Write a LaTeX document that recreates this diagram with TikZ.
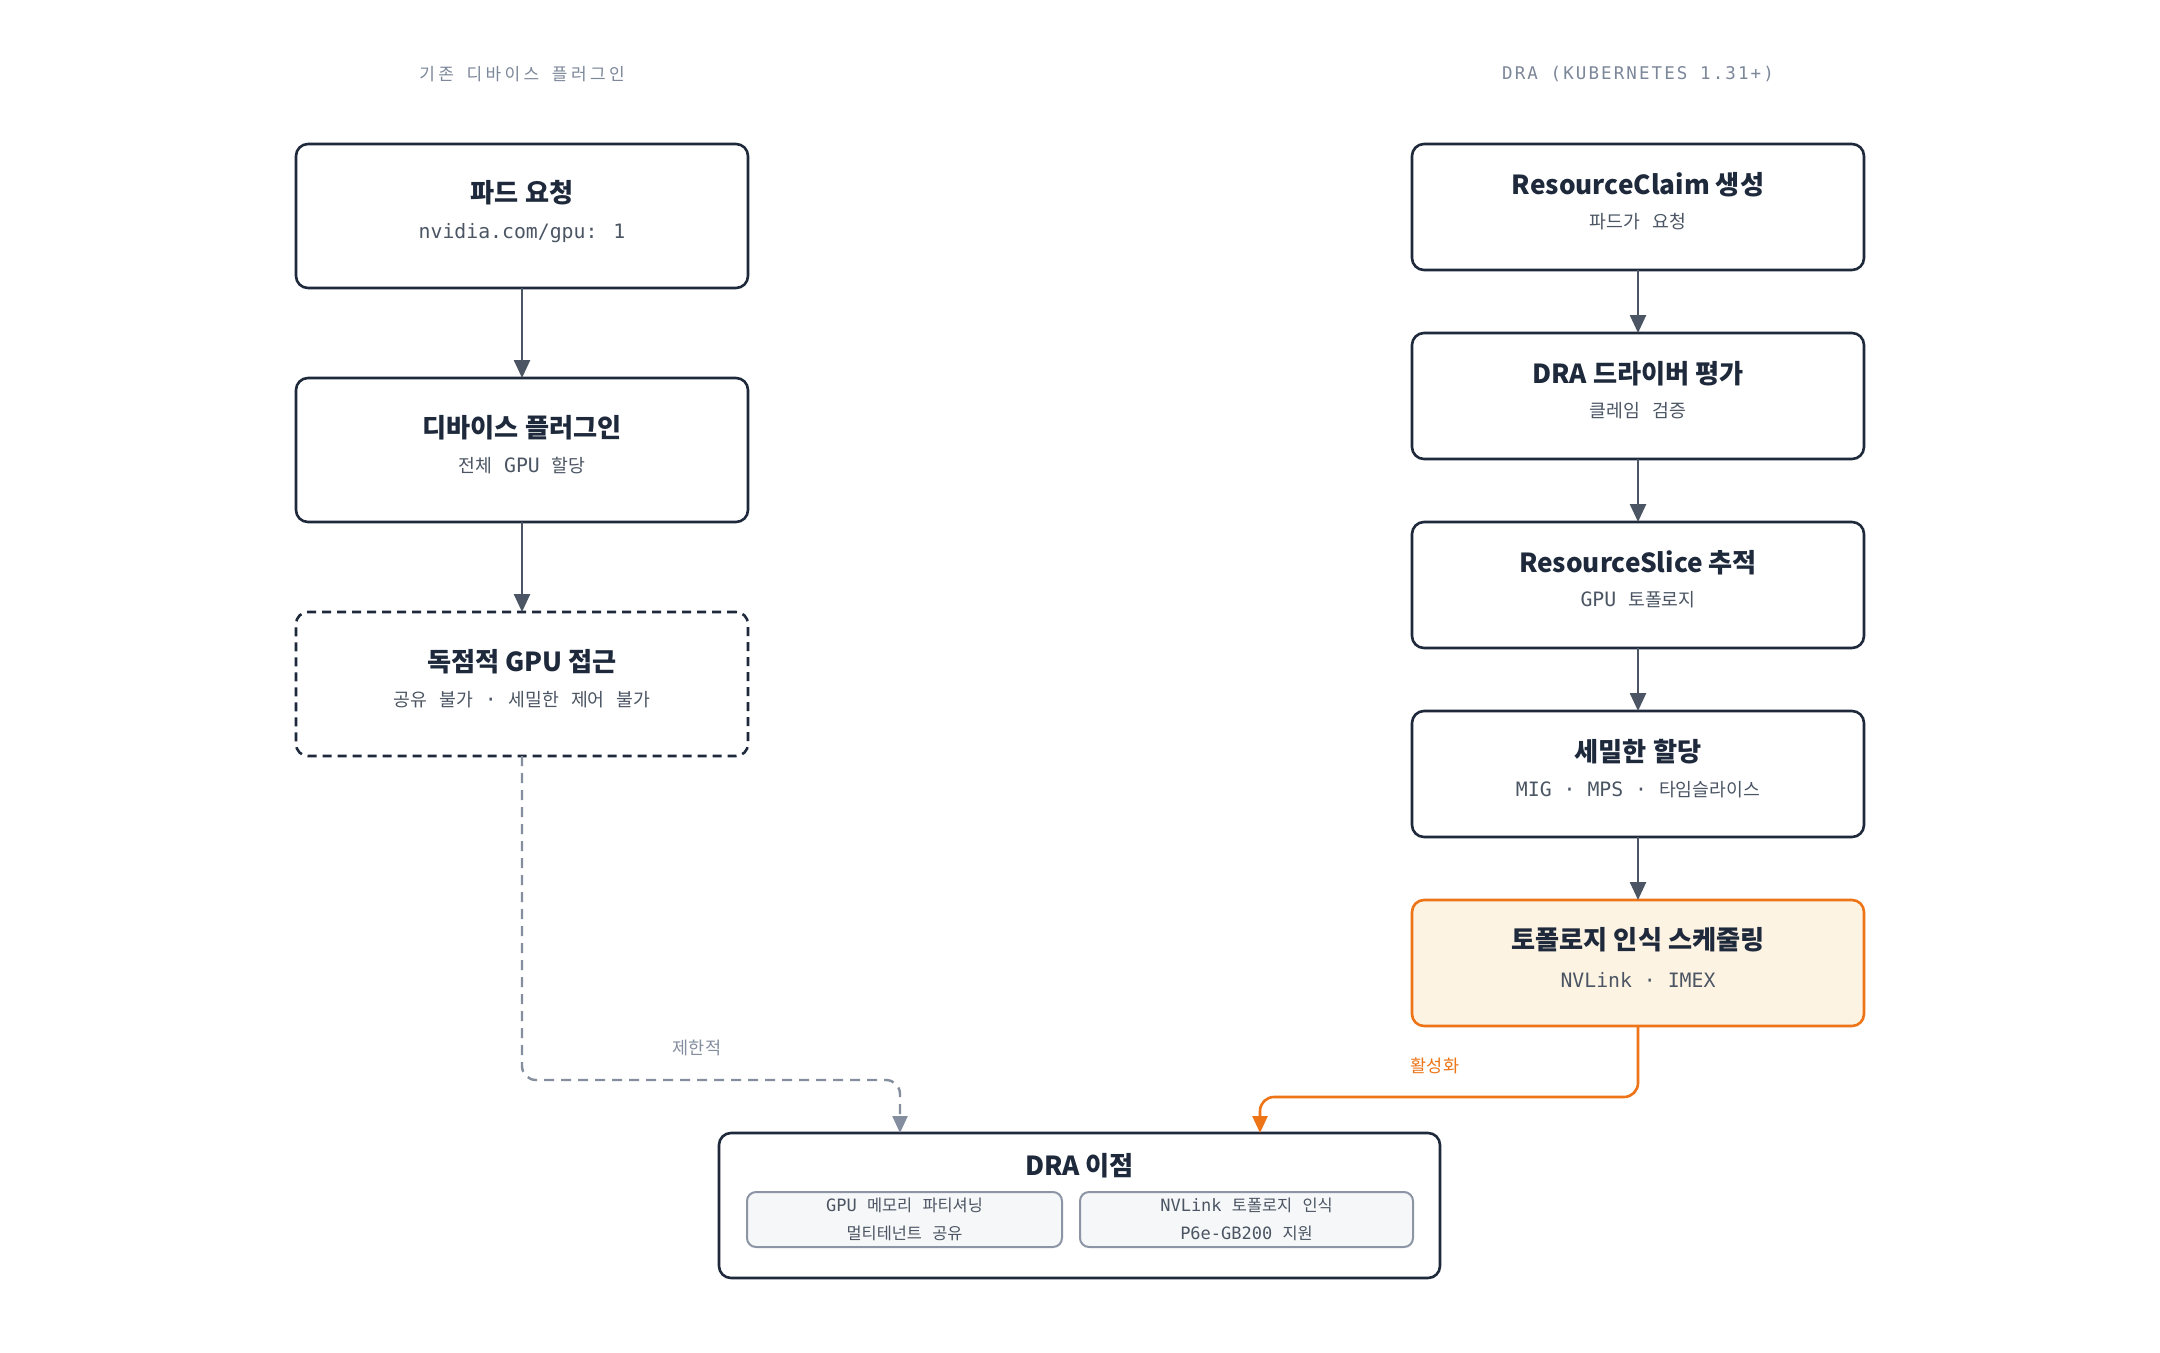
\documentclass[tikz,border=0pt]{standalone}
\usepackage{fontspec}
\setmainfont{Noto Sans CJK KR}
\usetikzlibrary{arrows.meta}
\newfontfamily\kr{Noto Sans CJK KR}
\newfontfamily\mono{DejaVu Sans Mono}
\newfontfamily\hmono{DejaVu Sans Mono}[LetterSpace=12]
\newfontfamily\hkr{Noto Sans CJK KR}[LetterSpace=20]
\definecolor{ink}{HTML}{1E293B}
\definecolor{subc}{HTML}{4B5563}
\definecolor{hdrc}{HTML}{7C8799}
\definecolor{arrc}{HTML}{4B5563}
\definecolor{dashc}{HTML}{848E9E}
\definecolor{orng}{HTML}{ED7417}
\definecolor{cream}{HTML}{FDF3E3}
\definecolor{innerfill}{HTML}{F6F7F8}
\definecolor{innerline}{HTML}{8B95A5}
\newcommand\K[1]{{\kr\fontsize{18.3}{22}\selectfont #1}}
\newcommand\HK[1]{{\hkr\fontsize{17}{20}\selectfont #1}}
\newcommand\IK[1]{{\kr\fontsize{16.4}{20}\selectfont #1}}
\begin{document}
\begin{tikzpicture}[x=1pt,y=-1pt,
  every node/.style={inner sep=0pt, outer sep=0pt},
  box/.style={draw=ink, line width=2.6pt, rounded corners=12pt, fill=white},
  lbox/.style={box, minimum width=452pt, minimum height=144pt},
  rbox/.style={box, minimum width=452pt, minimum height=126pt},
  ttl/.style={text=ink, font=\kr\bfseries\fontsize{26.2}{31}\selectfont},
  sub/.style={text=subc, font=\mono\fontsize{19.8}{23}\selectfont},
  hdr/.style={text=hdrc, font=\hmono\fontsize{17.5}{21}\selectfont},
  arr/.style={draw=arrc, line width=2.5pt, -{Triangle[length=18pt,width=16pt]}},
  inner/.style={draw=innerline, fill=innerfill, line width=2pt, rounded corners=9pt, minimum height=55pt},
  itxt/.style={text=subc, font=\mono\fontsize{17}{20}\selectfont},
  lbl/.style={font=\kr\fontsize{17.5}{21}\selectfont}
]
\path[use as bounding box, fill=white] (0,0) rectangle (2160,1352);

% headers
\node[hdr] (h1) at (522,74) {\HK{기존} \HK{디바이스} \HK{플러그인}};
\node[hdr] (h2) at (1638,74) {DRA (KUBERNETES 1.31+)};

% left column
\node[lbox] (l1) at (522,216) {};
\node[ttl] (l1t) at (522,193) {파드 요청};
\node[sub] (l1s) at (522,233) {nvidia.com/gpu: 1};

\node[lbox] (l2) at (522,450) {};
\node[ttl] (l2t) at (522,428) {디바이스 플러그인};
\node[sub] (l2s) at (522,466) {\K{전체} GPU \K{할당}};

\node[lbox, dash pattern=on 9pt off 6pt] (l3) at (522,684) {};
\node[ttl] (l3t) at (522,662) {독점적 GPU 접근};
\node[sub] (l3s) at (522,700) {\K{공유} \K{불가} · \K{세밀한} \K{제어} \K{불가}};

% right column
\node[rbox] (r1) at (1638,207) {};
\node[ttl] (r1t) at (1638,185) {ResourceClaim 생성};
\node[sub] (r1s) at (1638,222) {\K{파드가} \K{요청}};

\node[rbox] (r2) at (1638,396) {};
\node[ttl] (r2t) at (1638,374) {DRA 드라이버 평가};
\node[sub] (r2s) at (1638,411) {\K{클레임} \K{검증}};

\node[rbox] (r3) at (1638,585) {};
\node[ttl] (r3t) at (1638,563) {ResourceSlice 추적};
\node[sub] (r3s) at (1638,600) {GPU \K{토폴로지}};

\node[rbox] (r4) at (1638,774) {};
\node[ttl] (r4t) at (1638,752) {세밀한 할당};
\node[sub] (r4s) at (1638,790) {MIG · MPS · \K{타임슬라이스}};

\node[rbox, draw=orng, fill=cream] (r5) at (1638,963) {};
\node[ttl] (r5t) at (1638,940) {토폴로지 인식 스케줄링};
\node[sub] (r5s) at (1638,980) {NVLink · IMEX};

% bottom box
\node[box, minimum width=721pt, minimum height=145pt] (bot) at (1079.5,1205.5) {};
\node[ttl] (bott) at (1079.5,1166) {DRA 이점};
\node[inner, minimum width=315pt] (ia) at (904.5,1219.5) {};
\node[itxt] (ia1) at (904.5,1205) {GPU \IK{메모리} \IK{파티셔닝}};
\node[itxt] (ia2) at (904.5,1233) {\IK{멀티테넌트} \IK{공유}};
\node[inner, minimum width=333pt] (ib) at (1246.5,1219.5) {};
\node[itxt] (ib1) at (1246.5,1205) {NVLink \IK{토폴로지} \IK{인식}};
\node[itxt] (ib2) at (1246.5,1233) {P6e-GB200 \IK{지원}};

% arrows
\draw[arr] (l1.south) -- (l2.north);
\draw[arr] (l2.south) -- (l3.north);
\draw[arr] (r1.south) -- (r2.north);
\draw[arr] (r2.south) -- (r3.north);
\draw[arr] (r3.south) -- (r4.north);
\draw[arr] (r4.south) -- (r5.north);

% connectors to bottom
\coordinate (dA) at (900,1080);
\draw[draw=dashc, line width=2.4pt, dash pattern=on 10pt off 7pt, rounded corners=14pt,
  -{Triangle[length=17pt,width=15pt,fill=dashc]}] (l3.south) |- (dA) -- (dA |- bot.north);
\node[lbl, text=dashc] (lim) at (697,1048) {제한적};

\coordinate (oA) at (1260,1097);
\draw[draw=orng, line width=2.6pt, rounded corners=14pt,
  -{Triangle[length=17pt,width=15pt,fill=orng]}] (r5.south) |- (oA) -- (oA |- bot.north);
\node[lbl, text=orng] (act) at (1435,1066) {활성화};
\end{tikzpicture}
\end{document}
